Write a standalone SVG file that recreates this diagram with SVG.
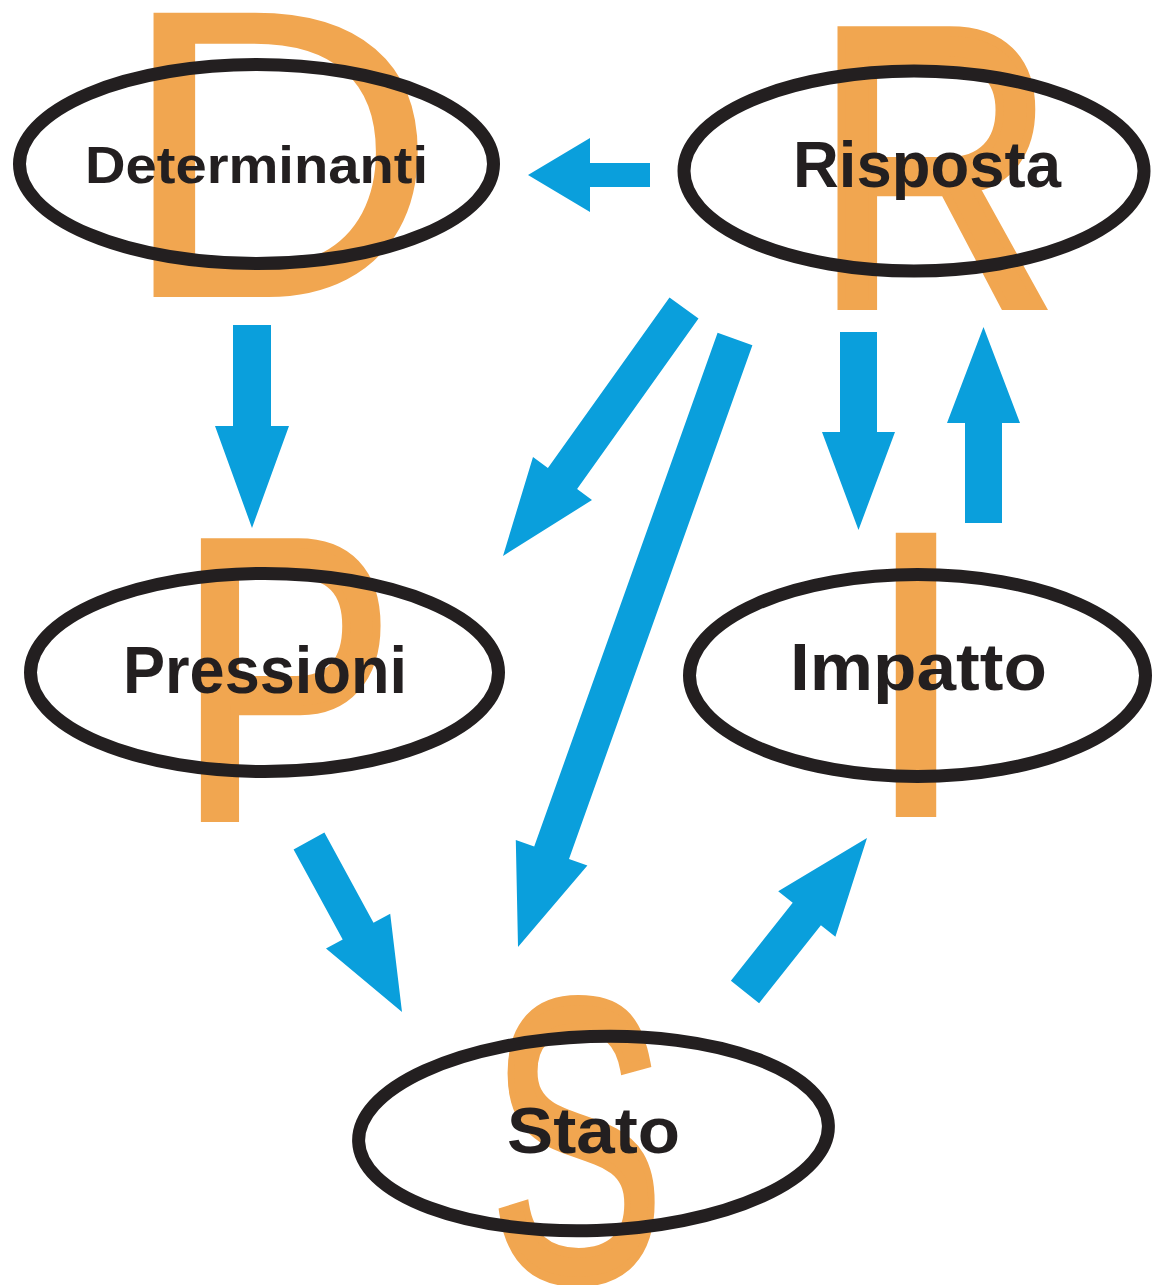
<svg xmlns="http://www.w3.org/2000/svg" width="1153" height="1285" viewBox="0 0 1153 1285">
<style>
.big{font-family:"Liberation Sans",Arial,sans-serif;fill:#F1A650;text-anchor:middle}
.thick{stroke:#F1A650;stroke-width:10;stroke-linejoin:miter}
.ring{fill:none;stroke:#231F20;stroke-width:13}
.lbl{font-family:"Liberation Sans",Arial,sans-serif;font-weight:bold;fill:#231F20}
.arr{fill:#0A9FDC}
</style>
<rect width="1153" height="1285" fill="#ffffff"/>
<g id="letters">
<text class="big" font-size="413" transform="translate(278,297) scale(1.08,1)">D</text>
<text class="big thick" font-size="398" transform="translate(935,305) scale(0.84,1)">R</text>
<text class="big thick" font-size="398" transform="translate(286,817) scale(0.81,1)">P</text>
<text class="big" font-size="413" transform="translate(916,817) scale(1.05,1)">I</text>
<text class="big thick" font-size="398" transform="translate(577,1278) scale(0.65,1)">S</text>
</g>
<g id="connectors">
<polygon class="arr" points="650,163 590,163 590,138 528,175 590,212 590,187 650,187"/>
<polygon class="arr" points="233,325 233,426 215,426 252,528 289,426 271,426 271,325"/>
<polygon class="arr" points="840,332 840,432 822,432 858.5,530 895,432 877,432 877,332"/>
<polygon class="arr" points="965,523 965,423 947,423 983.5,327 1020,423 1002,423 1002,523"/>
<polygon class="arr" points="669.5,297.4 547.9,467.9 533,457 503,556 592,500 577.1,489.1 698.5,318.6"/>
<polygon class="arr" points="717.6,332.8 534.2,846.6 515.8,840 518,947 587.4,865.6 569,859 752.4,345.2"/>
<polygon class="arr" points="293.6,849.4 342.7,939.6 326,948.6 402,1012 390.2,913.8 373.5,922.8 324.4,832.6"/>
<polygon class="arr" points="759.1,1003.2 820.9,925.2 835.4,936.7 867,838 778.2,891.3 792.7,902.8 730.9,980.8"/>
</g>
<g id="determinanti">
<ellipse class="ring" cx="256.5" cy="164" rx="237" ry="99.5"/>
<text class="lbl" x="85" y="183" font-size="52" textLength="343" lengthAdjust="spacingAndGlyphs">Determinanti</text>
</g>
<g id="risposta">
<ellipse class="ring" cx="914" cy="171" rx="230" ry="100"/>
<text class="lbl" x="793" y="187" font-size="64" textLength="268" lengthAdjust="spacingAndGlyphs">Risposta</text>
</g>
<g id="pressioni">
<ellipse class="ring" cx="264.5" cy="672.5" rx="234" ry="99"/>
<text class="lbl" x="123" y="693" font-size="66" textLength="284" lengthAdjust="spacingAndGlyphs">Pressioni</text>
</g>
<g id="impatto">
<ellipse class="ring" cx="917.5" cy="675.5" rx="228" ry="101"/>
<text class="lbl" x="790" y="690" font-size="66" textLength="257" lengthAdjust="spacingAndGlyphs">Impatto</text>
</g>
<g id="stato">
<ellipse class="ring" cx="593.5" cy="1133.5" rx="235" ry="97" transform="rotate(-2 593.5 1133.5)"/>
<text class="lbl" x="507" y="1153" font-size="64" textLength="173" lengthAdjust="spacingAndGlyphs">Stato</text>
</g>
</svg>
